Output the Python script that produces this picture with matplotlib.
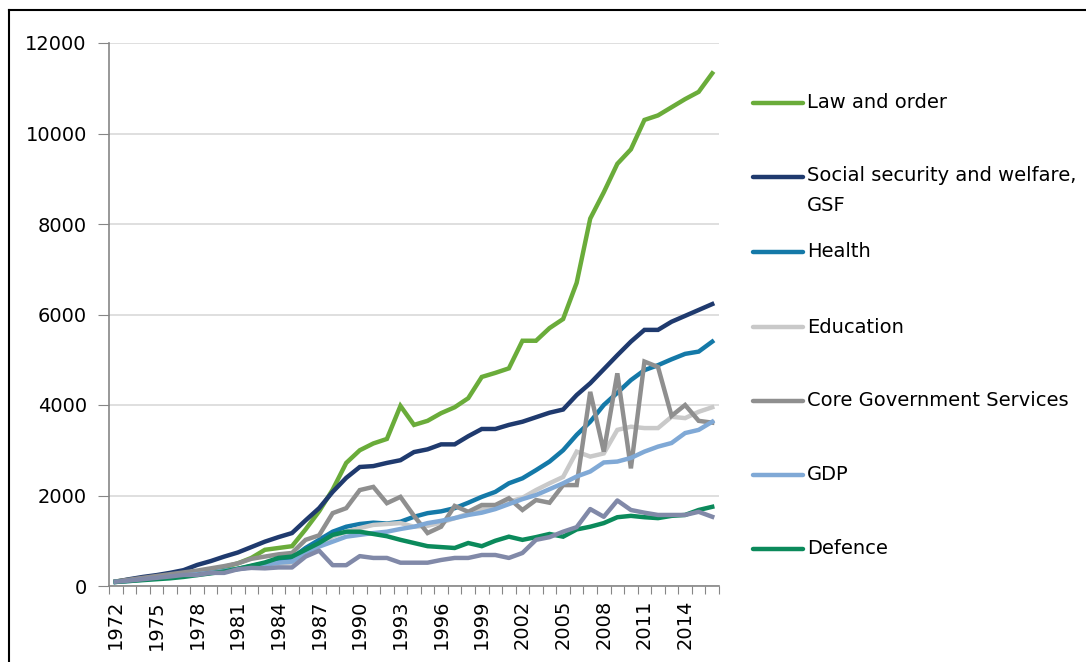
import numpy as np
import matplotlib
matplotlib.use("Agg")
from matplotlib import pyplot as plt
from matplotlib.lines import Line2D

plt.rcParams['font.family'] = ['DejaVu Sans']

years = list(range(1972, 2017))

law = [100, 140, 180, 210, 250, 280, 320, 360, 420, 500, 620, 800, 840, 880,
       1250, 1650, 2130, 2720, 3000, 3150, 3250, 3980, 3560, 3650, 3820, 3950,
       4150, 4620, 4710, 4810, 5420, 5420, 5700, 5900, 6700, 8120, 8700, 9330,
       9650, 10300, 10400, 10580, 10760, 10920, 11330]
social = [95, 150, 200, 240, 290, 350, 465, 550, 650, 740, 860, 980, 1080, 1170,
          1450, 1720, 2080, 2390, 2630, 2650, 2720, 2780, 2960, 3020, 3130, 3130,
          3310, 3470, 3470, 3560, 3630, 3730, 3830, 3900, 4220, 4480, 4790, 5100,
          5400, 5660, 5660, 5840, 5970, 6100, 6230]
health = [90, 120, 150, 180, 210, 240, 270, 300, 340, 380, 440, 500, 575, 620,
          840, 1020, 1200, 1310, 1370, 1400, 1380, 1420, 1530, 1610, 1650, 1720,
          1840, 1970, 2080, 2270, 2380, 2560, 2750, 3000, 3340, 3630, 4000, 4270,
          4550, 4770, 4880, 5010, 5130, 5180, 5400]
education = [90, 120, 150, 180, 210, 230, 260, 290, 330, 370, 420, 460, 490, 520,
             730, 910, 1090, 1200, 1280, 1350, 1370, 1390, 1310, 1330, 1400, 1500,
             1600, 1700, 1760, 1860, 1950, 2120, 2270, 2410, 2970, 2860, 2930, 3450,
             3520, 3490, 3490, 3740, 3710, 3850, 3950]
core = [100, 140, 180, 220, 260, 300, 340, 390, 440, 500, 600, 650, 700, 730,
        1020, 1120, 1610, 1720, 2120, 2190, 1830, 1970, 1550, 1170, 1310, 1770,
        1640, 1790, 1790, 1940, 1680, 1900, 1840, 2230, 2230, 4290, 2970, 4700,
        2600, 4960, 4840, 3760, 4000, 3650, 3610]
gdp = [90, 110, 140, 170, 200, 230, 260, 290, 330, 370, 420, 470, 515, 540,
       730, 870, 980, 1090, 1130, 1170, 1200, 1260, 1310, 1390, 1440, 1500,
       1570, 1620, 1700, 1810, 1920, 2010, 2140, 2270, 2420, 2530, 2730, 2750,
       2830, 2970, 3080, 3160, 3380, 3450, 3630]
defence = [90, 110, 130, 150, 170, 200, 240, 280, 320, 380, 450, 520, 620, 650,
           800, 950, 1130, 1200, 1200, 1150, 1100, 1020, 950, 880, 860, 840,
           950, 880, 1000, 1090, 1020, 1080, 1150, 1090, 1250, 1310, 1390, 1520,
           1550, 1520, 1500, 1550, 1570, 1680, 1750]
other = [95, 120, 150, 180, 210, 245, 245, 290, 290, 370, 400, 390, 410, 410,
         650, 780, 460, 460, 660, 620, 620, 515, 515, 515, 575, 620, 620, 685,
         685, 620, 730, 1020, 1080, 1200, 1300, 1700, 1530, 1890, 1680, 1620,
         1570, 1570, 1570, 1640, 1530]

labels = ["Law and order", "Social security and welfare,\nGSF", "Health",
          "Education", "Core Government Services", "GDP", "Defence"]
colors = ["#6aac3a", "#1f3a6e", "#1479a8", "#c9c9c9", "#8f8f8f", "#80a9d6",
          "#0b8a5b"]
series = [law, social, health, education, core, gdp, defence]

W, H = 1086, 662
fig = plt.figure(figsize=(W / 100, H / 100), dpi=100)
ax = fig.add_axes([109 / W, 1 - 586 / H, 610 / W, 543 / H])

for vals, c in zip(series, colors):
    ax.plot(years, vals, color=c, lw=3.2, solid_joinstyle='miter')
ax.plot(years, other, color="#8189a8", lw=3.2)

ax.set_xlim(1971.5, 2016.5)
ax.set_ylim(0, 12000)
ax.set_yticks(range(0, 12001, 2000))
ax.tick_params(axis='y', labelsize=14, length=8, color='#868686', pad=8)
ax.yaxis.grid(True, color='#d9d9d9', lw=1.2)
ax.set_axisbelow(True)

ax.set_xticks(np.arange(1971.5, 2017, 1))
ax.set_xticklabels([])
ax.tick_params(axis='x', which='major', length=6, color='#868686')
ax.set_xticks(years[::3], minor=True)
ax.set_xticklabels([str(y) for y in years[::3]], minor=True, rotation=90,
                   fontsize=14)
ax.tick_params(axis='x', which='minor', length=0, pad=10)

for s in ['top', 'right']:
    ax.spines[s].set_visible(False)
for s in ['left', 'bottom']:
    ax.spines[s].set_color('#868686')
    ax.spines[s].set_linewidth(1.2)

# legend drawn by hand to match the spacing
leg_y = [103, 177, 252, 327, 401, 475, 549]
for lab, c, py in zip(labels, colors, leg_y):
    fy = 1 - py / H
    fig.add_artist(Line2D([753 / W, 803 / W], [fy, fy], color=c, lw=3.2,
                          solid_capstyle='round'))
    if "\n" in lab:
        fig.text(807 / W, fy + 11 / H, lab, fontsize=14, va='top',
                 linespacing=1.75)
    else:
        fig.text(807 / W, fy, lab, fontsize=14, va='center')

# outer frame, only left and top edges visible
top = 1 - 10 / H
fig.add_artist(Line2D([9 / W, 9 / W], [-0.05, top], color='black', lw=1.5))
fig.add_artist(Line2D([9 / W, 1.05], [top, top], color='black', lw=1.5))

fig.savefig("out.png", dpi=100)
